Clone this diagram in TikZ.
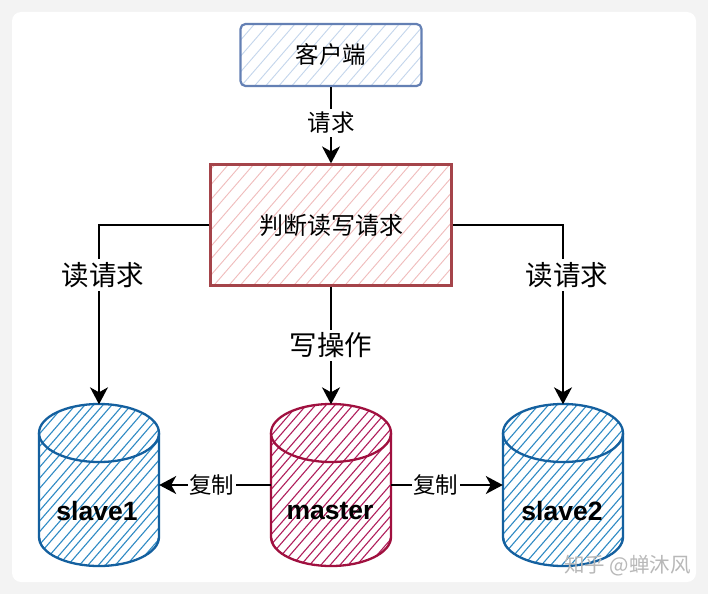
\documentclass[tikz,border=0pt]{standalone}
\usepackage{fontspec}
\setmainfont{Noto Sans CJK SC}
\setsansfont{Liberation Sans}
\usetikzlibrary{arrows.meta}
\definecolor{pageGray}{HTML}{F3F3F3}
\definecolor{clientLine}{HTML}{6480B4}
\definecolor{clientHatch}{HTML}{C4D6EC}
\definecolor{judgeLine}{HTML}{A5444A}
\definecolor{judgeHatch}{HTML}{F0BCBC}
\definecolor{dbBlue}{HTML}{14609F}
\definecolor{dbBlueHatch}{HTML}{2F8AC4}
\definecolor{dbRed}{HTML}{A0103F}
\definecolor{dbRedHatch}{HTML}{B01E5C}
\pgfmathsetseed{7}
% diagonal strokes round a centre anchor, a little uneven
\newcommand\HatchLines[4]{
  \foreach \i in {-40,...,40}{
    \pgfmathsetmacro\jit{rnd*2.5}
    \draw[#2,line width=#4] ([xshift=\i*#3 pt+\jit pt-130pt,yshift=-150pt]#1)
      -- ([xshift=\i*#3 pt+\jit pt+130pt,yshift=150pt]#1);
  }
}
% cylinder over a named node
\newcommand\DrawDB[3]{
  \begin{scope}
    \clip ([xshift=-60pt,yshift=52pt]#1.center) arc[start angle=180,end angle=0,x radius=60pt,y radius=29pt]
      -- ([xshift=60pt,yshift=-52pt]#1.center) arc[start angle=360,end angle=180,x radius=60pt,y radius=29pt] -- cycle;
    \HatchLines{#1.center}{#3}{9.5}{1.1pt}
  \end{scope}
  \draw[#2,dbline] ([xshift=-60pt,yshift=52pt]#1.center) arc[start angle=180,end angle=-180,x radius=60pt,y radius=29pt];
  \draw[#2,dbline] ([xshift=-60pt,yshift=52pt]#1.center) -- ([xshift=-60pt,yshift=-52pt]#1.center)
    arc[start angle=180,end angle=360,x radius=60pt,y radius=29pt] -- ([xshift=60pt,yshift=52pt]#1.center);
  \draw[#2,line width=0.8pt] ([xshift=-59pt,yshift=-53pt]#1.center)
    arc[start angle=180,end angle=360,x radius=59pt,y radius=28pt];
}
\tikzset{
  hatch/.style 2 args={path picture={\HatchLines{path picture bounding box.center}{#1}{#2}{0.9pt}}},
  boxnode/.style={rectangle,inner sep=0pt,line width=2.2pt},
  dbnode/.style={rectangle,inner sep=0pt,minimum width=120pt,minimum height=161pt},
  dbline/.style={line width=2.3pt},
  dbtext/.style={font=\sffamily\bfseries\fontsize{26.5}{30}\selectfont},
  arr/.style={-{Stealth[length=17pt,width=18pt,inset=5pt]},line width=1.5pt},
  lab/.style={fill=white,inner sep=3pt,font=\fontsize{#1}{#1}\selectfont},
}
\begin{document}
\begin{tikzpicture}[x=1pt,y=-1pt]

  \useasboundingbox (0,0) rectangle (708,594);
  \fill[pageGray] (0,0) rectangle (708,594);
  \fill[white,rounded corners=9pt] (12,12) rectangle (696,582);

  \node[boxnode,rounded corners=5pt,draw=clientLine,hatch={clientHatch}{13},minimum width=181pt,minimum height=62pt,font=\fontsize{23.5}{26}\selectfont] (client) at (331,55) {客户端};
  \node[boxnode,draw=judgeLine,hatch={judgeHatch}{13},minimum width=241pt,minimum height=121pt,font=\fontsize{24}{26}\selectfont] (judge) at (331,225) {判断读写请求};

  \node[dbnode] (slave1) at (99,485) {};
  \node[dbnode] (master) at (331,485) {};
  \node[dbnode] (slave2) at (563,485) {};
  \DrawDB{slave1}{dbBlue}{dbBlueHatch}
  \DrawDB{master}{dbRed}{dbRedHatch}
  \DrawDB{slave2}{dbBlue}{dbBlueHatch}

  \node[dbtext] (slave1txt) at (97,511) {slave1};
  \node[dbtext] (mastertxt) at (330,511) {master};
  \node[dbtext] (slave2txt) at (562,511) {slave2};

  \draw[arr] (client) -- node[lab=23.5,pos=.47]{请求} (judge); %% client->judge
  \draw[arr] (judge.south) -- node[lab=27.5]{写操作} (master.north);
  \draw[arr] (judge.west) -| node[lab=27.5,pos=.64,xshift=4pt]{读请求} (slave1.north);
  \draw[arr] (judge.east) -| node[lab=27.5,pos=.64,xshift=4pt]{读请求} (slave2.north);

  \draw[arr] (master.west) -- node[lab=22.5,inner sep=1.5pt,pos=.53]{复制} (slave1.east);
  \draw[arr] (master.east) -- node[lab=22.5,inner sep=1.5pt,pos=.4]{复制} (slave2.west);

  \node[text=black!28,font=\fontsize{20.5}{21}\selectfont,anchor=east,inner sep=0pt] (mark) at (691,566) {知乎 @蝉沐风};

\end{tikzpicture}
\end{document}
